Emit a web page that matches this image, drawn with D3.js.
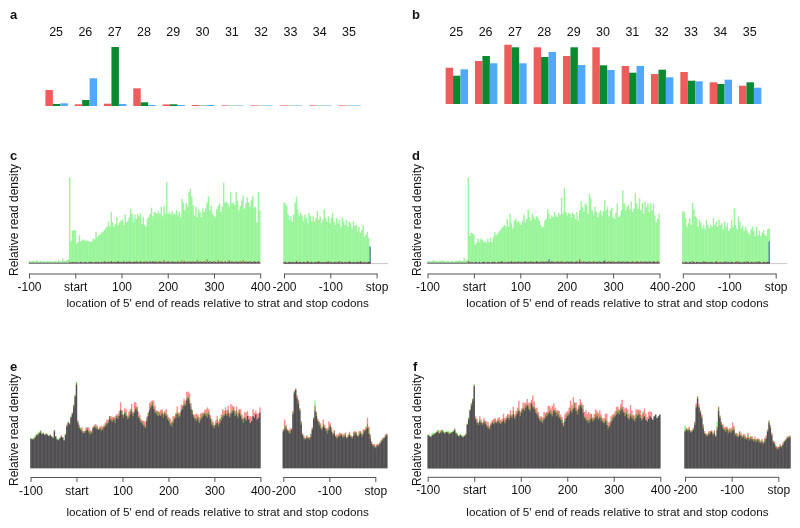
<!DOCTYPE html>
<html><head><meta charset="utf-8">
<script src="https://cdn.jsdelivr.net/npm/d3@7"></script>
<style>
body{margin:0;background:#fff}
svg{font-family:Arial,"Liberation Sans",sans-serif}
</style></head>
<body><svg id="fig" width="800" height="528"></svg>
<script>
// ---------- DATA ----------
const readLengths = [25,26,27,28,29,30,31,32,33,34,35];
// panel a (read-length distribution, three frames)
const aRed   = [16,1.7,2.3,17.7,1.6,1.0,0.6,0.6,0.6,0.6,0.6];
const aGreen = [2.0,6.0,59,3.7,1.7,0.4,0.3,0.3,0.3,0.3,0.3];
const aBlue  = [2.7,27.7,2.0,1.0,1.0,1.0,0.5,0.5,0.5,0.5,0.5];
// panel b
const bRed   = [36.3,43,59.3,56.7,48,56.7,38,30,32,21.7,18.3];
const bGreen = [28.3,48,56.7,47,56.7,38.7,31.3,34.3,23.3,20,21.7];
const bBlue  = [34.7,40.7,40.7,52,39,34,38,26.7,22.7,24.3,16.3];

const leftTicks = [-100,0,100,200,300,400];
const leftTickLabels = ["-100","start","100","200","300","400"];
const rightTicks = [-200,-100,0];
const rightTickLabels = ["-200","-100","stop"];
const xTitle = "location of 5' end of reads relative to strat and stop codons";
const yTitle = "Relative read density";

// panel c : codon-resolution read density (left: -99..399, right: -200..-14)
const cGreenL = [3,2,3,3,2,4,3,2,3,3,2,3,2,3,3,2,3,2,3,3,2,4,3,2,6,3,3,4,5,
 100,26,38,39,39,23,25,33,26,28, 27,28,26,27,26,25,26,29,28,37, 31,33,34,36,37,39,41,43,49,43,
 60,48,43,46,54,45,48,50,51,45, 57,48,50,54,64,58,48,57,52,58, 55,59,46,54,45,43,52,54,58,65,
 55,60,59,58,61,58,66,55,67,58, 95,58,60,57,61,58,57,62,56,60, 54,75,71,62,70,66,83,87,78,68,
 56,66,54,63,59,54,64,60,64,71, 78,62,67,58,56,54,63,67,70,60, 66,94,71,72,70,66,83,70,71,68,
 83,73,62,67,73,79,64,70,77,71, 66,74,79,65,66,48,83,62];
const cRedL = [1,1,1,1,1,1,1,1,1,1, 1,1,1,1,1,1,1,1,1,1, 1,1,1,1,1,1,1,1,1,2, 2,1,2,2,1,2,1,2,2,1,
 2,2,1,2,2,2,1,2,2,2, 2,1,2,2,3,2,2,2,2,3, 2,2,2,2,3,2,2,2,3,2, 2,2,3,2,2,2,2,3,2,2,
 3,2,2,2,3,2,2,3,2,2, 2,3,2,2,3,2,2,4,2,2, 3,2,2,3,2,2,2,3,2,2, 4,2,3,2,2,3,2,2,3,2,
 2,4,2,3,2,2,3,2,5,2, 3,2,2,3,2,2,4,2,3,2, 2,3,2,2,4,2,3,2,2,3, 2,2,3,2,4,2,3,2,2,3, 2,2,3,2,2,3,2];
const cBlueL = [1,1,1,1,1,1,1,1,1,1, 1,1,1,1,1,1,1,1,1,1, 1,1,1,1,1,1,1,1,1,1, 1,2,1,1,2,1,1,2,1,1,
 2,1,1,2,1,2,1,1,2,1, 2,1,2,1,1,2,1,2,1,2, 1,2,1,2,2,1,2,1,2,1, 2,2,1,2,1,2,2,1,2,1,
 2,1,2,2,1,2,1,2,1,3, 2,1,2,1,2,2,1,2,1,2, 2,1,2,1,2,2,1,2,1,2, 1,2,2,1,2,1,2,2,1,2,
 2,1,2,1,2,2,1,2,1,2, 1,2,2,1,2,1,2,1,2,2, 1,2,1,2,2,1,2,1,2,1, 2,2,1,2,1,2,1,2,2,1, 2,1,2,2,1,2,1];
const cGreenR = [71,70,67,57,51,55,49,57,71,78, 63,55,59,56,49,57,53,47,59,55, 49,55,49,53,61,51,55,47,51,63,
 53,49,55,47,53,59,49,45,53,47, 51,43,53,49,45,51,43,49,47,41, 49,44,45,37,43,36,39,45,31,34, 37,30,20];
const cRedR = [2,2,1,2,2,2,1,2,2,3, 2,2,2,1,2,2,2,3,2,2, 2,1,2,2,2,3,2,2,1,2, 2,2,3,2,2,1,2,2,2,2,
 3,2,2,1,2,2,2,3,2,2, 1,2,2,2,2,3,2,2,1,2, 2,2,2];
const cBlueR = [1,2,1,1,2,1,2,1,1,2, 1,1,2,1,2,1,1,2,1,1, 2,1,1,2,1,2,1,1,2,1, 1,2,1,1,2,1,2,1,1,2,
 1,1,2,1,2,1,1,2,1,1, 2,1,1,2,1,2,1,1,2,1, 1,2,20];

// panel d
const dGreenL = [3,3,2,3,4,3,3,2,3,3,4,3,3,2,3,3,2,3,3,2,3,3,3,4,3,3,7,3,4,
 100,32,36,35,34,22,24,29,25,29, 28,25,26,24,29,25,30,25,31,37, 33,35,37,39,41,43,45,43,52,43,
 58,47,41,50,52,48,50,47,45,50, 57,48,52,63,54,50,58,54,51,55, 54,50,45,42,43,50,52,63,58,52,
 56,54,60,56,54,59,57,77,58,88, 60,56,59,58,54,59,57,52,60,50, 62,73,66,60,70,68,58,81,76,62,
 56,66,60,54,59,62,56,61,74,62, 66,55,62,65,54,52,59,70,54,56, 62,85,70,62,66,68,63,72,60,64,
 82,70,64,76,62,70,58,72,66,70, 60,70,62,70,56,48,52,58];
const dRedL = [1,1,1,1,1,1,1,1,1,1, 1,1,1,1,1,1,1,1,1,1, 1,1,1,1,1,1,1,1,1,3, 2,1,2,1,2,2,1,2,1,2,
 2,2,1,2,2,1,2,2,2,1, 2,2,2,3,2,2,1,2,2,2, 3,2,2,2,2,3,2,2,2,2, 3,2,2,2,3,2,2,2,3,2,
 2,2,3,2,2,3,2,2,2,3, 2,2,2,3,2,2,3,2,2,2, 3,2,2,3,2,2,2,3,2,5, 2,2,3,2,2,2,3,2,2,3,
 2,2,2,3,2,2,3,2,2,2, 3,2,2,3,2,2,2,3,2,2, 3,2,2,3,2,2,2,3,2,2, 3,2,2,3,2,2,3,2,2,3, 2,2,3,2,2,3,2];
const dBlueL = [1,1,1,1,1,1,1,1,1,1, 1,1,1,1,1,1,1,1,1,1, 1,1,1,1,1,1,1,1,1,1, 1,2,1,1,2,1,1,2,1,1,
 2,1,1,2,1,1,2,1,2,1, 1,2,1,2,1,1,2,1,2,1, 2,1,2,1,2,1,1,2,1,2, 2,1,2,1,2,1,2,1,2,2,
 1,2,1,2,2,1,2,5,1,2, 2,1,2,1,2,2,1,2,1,2, 1,2,2,1,2,1,2,2,1,2, 2,1,2,1,2,2,1,2,1,2,
 1,2,2,1,2,1,2,4,1,2, 1,2,2,1,2,1,2,1,2,2, 1,2,1,2,2,1,2,1,2,1, 2,2,1,2,1,2,1,2,2,1, 2,1,2,2,1,2,1];
const dGreenR = [61,60,53,43,47,53,45,71,63,55, 53,43,51,47,41,45,40,51,45,41, 45,43,53,45,49,43,51,45,47,40,
 49,43,47,38,41,51,43,64,45,40, 55,49,41,44,38,43,39,36,34,40, 43,38,32,43,33,38,32,36,39,34, 32,40,41];
const dRedR = [2,1,2,2,1,2,2,3,2,1, 2,2,2,1,2,3,2,2,1,2, 2,2,1,2,3,2,2,1,2,2, 2,3,2,1,2,2,2,1,2,3,
 2,2,1,2,2,2,3,2,1,2, 2,2,1,2,3,2,2,1,2,2, 2,2,2];
const dBlueR = [1,1,2,1,1,2,1,1,2,1, 2,1,1,2,1,1,2,1,2,1, 1,2,1,1,2,1,1,2,1,1, 2,1,1,2,1,2,1,1,2,1,
 1,2,1,1,2,1,1,2,1,2, 1,1,2,1,1,2,1,1,2,1, 1,2,26];

// panel e : frame 3 (lowest) density, plus excess of frames 2 and 1 above it
const eBlueL = [34,33,33,35,37,38, 40,41,39,40,38,39, 38,37,38,36,35,42, 36,33,32,34,36,35, 32,38,48,52,50,58,
 62,70,82,96, 52,46,44,42,40,41, 43,44,41,39,40,46, 47,46,45,44,45,43, 44,47,48,50,52,57,
 55,53,56,52,58,57, 60,66,62,58,63,60, 56,58,62,65,60,64, 68,66,58,55,52,50, 48,46,54,60,66,70,
 72,68,64,62,60,61, 60,63,58,62,60,56, 54,50,48,52,56,58, 62,58,60,66,68,72, 72,78,80,74,68,62,
 58,56,54,57,52,55, 58,60,62,60,58,62, 56,50,48,46,50,52, 48,52,55,58,60,62, 60,63,58,62,64,66,
 60,62,58,63,60,56, 52,58,55,60,56,52, 54,60,58,62,56,58,64];
const eGreenExL = [1,1,2,3,2,3, 2,3,1,2,1,1, 1,1,0,1,1,2, 1,1,2,1,1,1, 1,2,1,2,1,2, 2,3,3,4,
 2,2,3,2,1,2, 2,3,2,3,2,1, 2,2,3,1,2,3, 2,1,3,2,2,3, 2,3,2,4,2,3, 3,2,4,3,2,3, 3,2,4,3,2,2,
 3,4,2,3,2,4, 3,2,3,4,2,3, 4,3,2,3,5,3, 2,3,4,2,3,3, 3,2,4,3,2,5, 3,4,3,2,3,4, 2,3,2,4,3,5,
 3,2,4,3,2,3, 4,3,2,3,5,3, 2,3,4,3,2,4, 3,5,4,3,2,4, 3,4,2,3,3,4, 3,5,2,4,3,2,8];
const eRedExL = [0,1,1,1,2,1, 1,2,1,0,1,1, 1,0,1,1,0,2, 1,0,1,1,2,1, 0,1,2,1,2,1, 2,3,2,2,
 3,4,2,5,3,2, 4,3,6,5,3,2, 3,5,4,2,3,6, 4,3,5,6,4,3, 5,6,3,8,4,5, 6,10,5,4,6,8, 5,7,6,9,4,12,
 8,5,7,6,4,5, 6,8,5,4,9,7, 6,10,8,5,6,4, 7,5,6,4,8,6, 5,7,6,8,4,5, 9,6,4,7,5,8, 6,10,8,12,7,5,
 4,6,9,5,7,8, 6,4,5,8,12,6, 5,7,6,4,5,8, 6,5,7,10,6,8, 7,9,6,12,8,5, 6,9,7,5,8,6, 5,7,9,6,4,8, 5,8,6,4,7,5,6];
const eBlueR = [42,44,46,43,41,40, 44,62,86,90,80,74, 66,50,38,34,33,35, 34,33,36,44,56,66, 60,54,50,46,44,48,
 46,43,40,44,48,42, 38,40,36,34,36,37, 38,35,36,37,34,36, 38,36,34,37,40,38, 36,38,40,36,39,42,
 44,46,40,34,28,26, 24,23,26,25,28,30, 32,34,36,38];
const eGreenExR = [2,4,3,1,2,3, 1,2,2,1,2,3, 2,3,1,2,1,2, 1,2,3,2,3,12, 4,2,3,4,2,3, 2,3,4,3,2,3,
 2,3,1,2,2,3, 1,2,2,3,1,2, 2,1,2,3,2,3, 1,3,2,3,4,2, 3,5,6,4,2,1, 2,2,1,2,1,2, 2,1,2,1];
const eRedExR = [3,12,4,2,3,6, 2,4,3,2,4,5, 3,4,2,3,2,3, 2,3,4,3,2,6, 5,3,4,6,3,8, 4,3,6,10,4,5,
 3,4,2,5,3,4, 2,5,3,4,2,3, 4,2,3,5,3,4, 2,5,3,4,6,3, 4,12,8,5,3,2, 4,3,2,3,2,3, 3,2,3,2];

// panel f
const fBlueL = [38,37,36,38,39,40, 41,42,40,41,43,41, 40,42,41,39,40,41, 42,44,40,38,37,38, 37,36,37,38,50,56,
 66,72,78,94, 56,52,50,54,52,50, 53,51,48,46,45,50, 52,51,53,52,54,52, 51,53,55,52,56,58,
 56,60,58,62,57,60, 63,66,60,64,68,66, 70,72,68,66,74,70, 68,64,62,58,55,54, 52,56,58,60,62,64,
 62,60,66,64,60,62, 58,56,52,48,54,58, 60,62,66,64,68,70, 66,62,68,72,70,64, 58,56,54,52,55,57,
 54,56,58,60,56,58, 55,53,52,54,50,46, 48,52,55,58,60,62, 64,62,66,68,64,60, 62,58,56,60,58,56,
 54,58,60,62,58,55, 58,60,56,54,57,60, 58,56,60,62,58,60,62];
const fGreenExL = [1,2,1,3,2,1, 2,2,4,1,2,3, 2,1,2,4,2,1, 2,1,2,3,1,2, 1,2,1,2,2,3, 2,3,3,3,
 2,2,3,2,1,2, 2,3,2,3,2,1, 2,2,3,1,2,3, 2,1,3,2,2,3, 2,3,2,4,2,3, 3,2,4,3,2,3, 3,2,4,3,2,2,
 3,4,2,3,2,4, 3,2,3,4,2,3, 4,3,2,3,5,3, 2,3,4,2,3,3, 3,2,4,3,2,5, 3,4,3,2,3,4, 2,3,2,4,3,5,
 3,2,4,3,2,3, 4,3,2,3,5,3, 2,3,4,3,2,4, 3,5,4,3,2,4, 3,4,2,3,3,4, 3,5,2,4,3,2,8];
const fRedExL = [1,0,1,1,0,1, 1,2,1,3,1,1, 1,0,1,2,1,1, 1,2,1,1,0,1, 1,0,1,2,1,2, 2,3,2,2,
 4,5,3,6,4,3, 5,4,6,7,4,3, 4,6,5,3,4,7, 5,4,8,6,4,5, 6,7,4,9,5,6, 7,12,6,5,8,9, 6,8,7,10,5,14,
 9,6,8,7,5,6, 7,9,6,5,10,8, 7,12,9,6,7,5, 8,6,7,5,9,7, 6,8,12,9,14,6, 10,7,5,8,6,9, 7,11,9,13,8,6,
 5,7,10,6,8,9, 7,5,6,9,13,7, 6,8,7,5,6,9, 7,6,8,11,7,9, 8,10,7,13,9,6, 7,10,8,6,9,7, 6,9,7,5,8,6,7];
const fBlueR = [42,44,43,44,41,42, 44,50,70,80,70,64, 58,46,40,38,37,39, 40,42,38,40,36,44, 66,58,50,46,44,42,
 45,40,42,41,43,44, 38,37,36,38,37,35, 36,34,33,35,32,34, 33,31,32,30,32,30, 29,30,28,30,34,42,
 52,46,38,30,28,24, 22,23,25,24,27,30, 32,34,35,36];
const fGreenExR = [8,2,3,2,1,2, 2,3,2,2,1,2, 2,3,1,2,1,2, 2,1,2,3,2,10, 4,2,3,4,2,3, 2,3,4,3,2,3,
 2,3,1,4,2,3, 2,3,2,4,2,3, 2,3,2,3,2,3, 2,3,2,3,2,2, 3,2,1,2,1,2, 1,2,1,2,1,2, 1,2,1,1];
const fRedExR = [2,3,2,4,3,2, 3,4,5,3,4,3, 4,5,3,2,3,4, 3,2,3,4,2,4, 5,3,4,5,4,6, 3,5,4,6,10,5,
 3,4,3,5,4,3, 4,5,3,6,4,3, 4,3,5,4,3,4, 3,4,3,5,4,3, 3,4,3,2,3,2, 3,2,3,2,3,2, 2,3,2,2];

// ---------- DRAWING ----------
const svg = d3.select('#fig');
const COL = {red:'#ee5c5c', green:'#078a30', blue:'#52a8fa'};
const MC  = {red:'#ff8c8c', green:'#98f598', blue:'#8c8cff'};   // profile colours (c, d)
const MC2 = {red:'#ff8c8c', green:'#90ff90', blue:'#8c8cff'};   // profile colours (e, f)

function letter(t,x,y){
  svg.append('text').attr('x',x).attr('y',y).attr('font-size',13).attr('font-weight','bold')
     .attr('fill','#111').text(t);
}

function lengthPanel(p){
  const g = svg.append('g');
  const xc = d3.scaleLinear().domain([25,35]).range([p.c0,p.c1]);
  const y = d3.scaleLinear().domain([0,p.max]).range([p.base,p.top]);
  const bw = 7.45;
  [[p.red,COL.red],[p.green,COL.green],[p.blue,COL.blue]].forEach(([vals,col],j)=>{
    g.append('g').selectAll('rect').data(vals).join('rect')
      .attr('x',(d,i)=>xc(readLengths[i])+(j-1.5)*bw)
      .attr('y',d=>y(d)).attr('width',bw).attr('height',d=>y(0)-y(d))
      .attr('fill',col);
  });
  g.append('g').selectAll('text').data(readLengths).join('text')
    .attr('x',d=>xc(d)-0.5).attr('y',p.labY).attr('text-anchor','middle')
    .attr('font-size',12.5).attr('fill','#111').text(d=>d);
}

function riboPanel(p){
  const g = svg.append('g');
  const xL = d3.scaleLinear().domain([-100,400]).range([p.lx0,p.lx1]);
  const xR = d3.scaleLinear().domain([-200,0]).range([p.rx0,p.rx1]);
  const y = d3.scaleLinear().domain([0,100]).range([p.base,p.base-p.h100]);
  const bw = (xL(3)-xL(0))*1.0;
  if (p.guide){
    g.append('line').attr('x1',xR(-200)).attr('x2',xR(25)).attr('y1',y(0)).attr('y2',y(0))
      .attr('stroke','#c8c8c8').attr('stroke-width',1);
  }
  const segs = [{x:xL,start:-99,frames:p.left},{x:xR,start:-200,frames:p.right}];
  segs.forEach(s=>{
    s.frames.forEach(fr=>{
      g.append('g').selectAll('rect').data(fr.values).join('rect')
        .attr('x',(d,i)=>s.x(s.start+3*i)-bw/2)
        .attr('y',d=>y(d)).attr('width',bw).attr('height',d=>y(0)-y(d))
        .attr('fill',fr.color).style('mix-blend-mode','multiply');
    });
  });
  const styleAxis = a=>{
    a.selectAll('path,line').attr('stroke','#555').attr('stroke-width',1);
    a.selectAll('text').attr('font-size',12).attr('fill','#111')
      .attr('font-family','Arial,"Liberation Sans",sans-serif');
  };
  g.append('g').attr('transform',`translate(0,${p.axisY})`)
    .call(d3.axisBottom(xL).tickValues(leftTicks).tickFormat((d,i)=>leftTickLabels[i])
      .tickSize(5).tickSizeOuter(0).tickPadding(4)).call(styleAxis);
  g.append('g').attr('transform',`translate(0,${p.axisY})`)
    .call(d3.axisBottom(xR).tickValues(rightTicks).tickFormat((d,i)=>rightTickLabels[i])
      .tickSize(5).tickSizeOuter(0).tickPadding(4)).call(styleAxis);
  g.append('text').attr('x',p.xtX).attr('y',p.xtY).attr('text-anchor','middle')
    .attr('font-size',11.7).attr('fill','#111').text(xTitle);
  g.append('text').attr('transform',`translate(${p.ytX},${p.ytY}) rotate(-90)`)
    .attr('text-anchor','middle').attr('dy','0.35em').attr('font-size',12).attr('fill','#111').text(yTitle);
}

function add(a,b){ return a.map((v,i)=>v+(b[i]||0)); }

letter('a',10,18.5); letter('b',412,18.5);
lengthPanel({red:aRed,green:aGreen,blue:aBlue,c0:56.6,c1:349.5,base:106,top:47,max:59,labY:36});
lengthPanel({red:bRed,green:bGreen,blue:bBlue,c0:456.8,c1:750.2,base:104,top:44.7,max:59.3,labY:35.5});

letter('c',10,160); letter('d',412,160);
riboPanel({lx0:29,lx1:260.2,rx0:284,rx1:376.6,base:263.6,h100:86,axisY:273.5,guide:true,
  xtX:217.7,xtY:307,ytX:14,ytY:220,
  left:[{values:cGreenL,color:MC.green},{values:cRedL,color:MC.red},{values:cBlueL,color:MC.blue}],
  right:[{values:cGreenR,color:MC.green},{values:cRedR,color:MC.red},{values:cBlueR,color:MC.blue}]});
riboPanel({lx0:427.5,lx1:659.5,rx0:682.8,rx1:775.7,base:263.6,h100:86,axisY:273.5,guide:true,
  xtX:617.5,xtY:307,ytX:416.7,ytY:220,
  left:[{values:dGreenL,color:MC.green},{values:dRedL,color:MC.red},{values:dBlueL,color:MC.blue}],
  right:[{values:dGreenR,color:MC.green},{values:dRedR,color:MC.red},{values:dBlueR,color:MC.blue}]});

letter('e',10,371); letter('f',413,371);
riboPanel({lx0:30.5,lx1:260.4,rx0:283.3,rx1:375.3,base:468.3,h100:87,axisY:477,guide:false,
  xtX:217.7,xtY:516,ytX:13.3,ytY:430,
  left:[{values:add(eBlueL,eRedExL),color:MC2.red},{values:add(eBlueL,eGreenExL),color:MC2.green},{values:eBlueL,color:MC2.blue}],
  right:[{values:add(eBlueR,eRedExR),color:MC2.red},{values:add(eBlueR,eGreenExR),color:MC2.green},{values:eBlueR,color:MC2.blue}]});
riboPanel({lx0:427.7,lx1:660.3,rx0:685,rx1:778.3,base:468.5,h100:87,axisY:476.8,guide:false,
  xtX:617.5,xtY:516,ytX:416.7,ytY:430,
  left:[{values:add(fBlueL,fRedExL),color:MC2.red},{values:add(fBlueL,fGreenExL),color:MC2.green},{values:fBlueL,color:MC2.blue}],
  right:[{values:add(fBlueR,fRedExR),color:MC2.red},{values:add(fBlueR,fGreenExR),color:MC2.green},{values:fBlueR,color:MC2.blue}]});
</script></body></html>
